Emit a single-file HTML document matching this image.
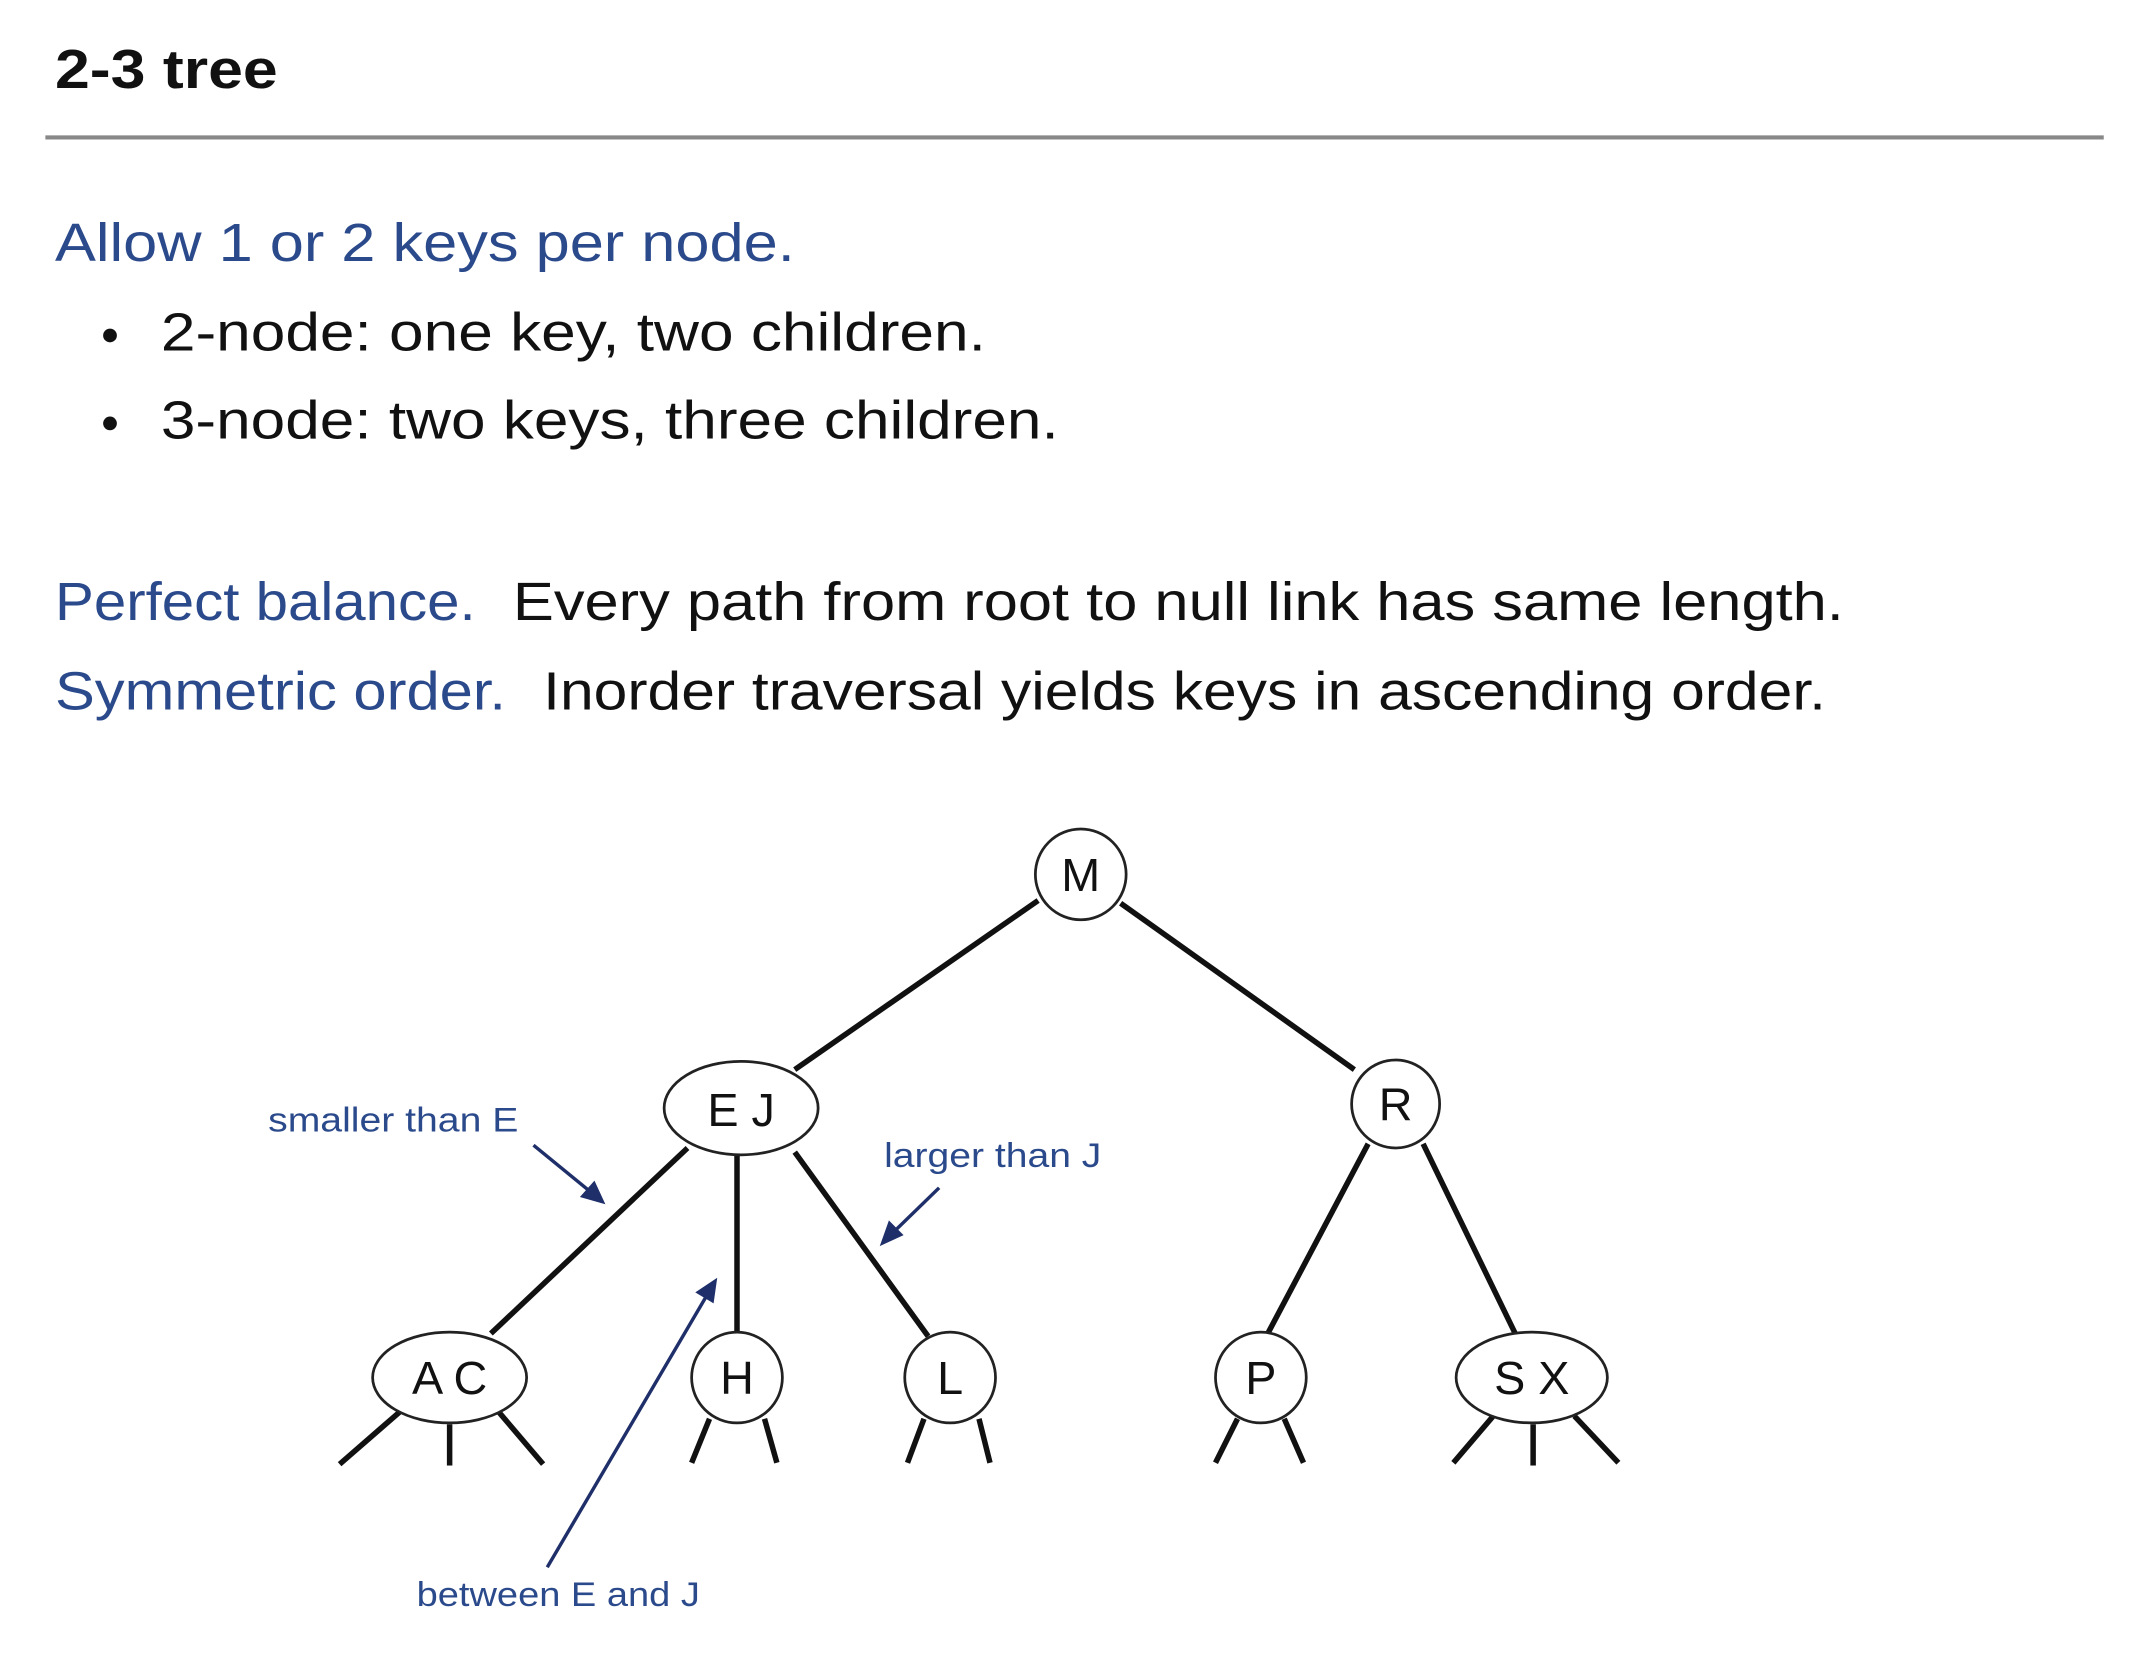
<!DOCTYPE html>
<html><head><meta charset="utf-8"><style>html,body{margin:0;padding:0;background:#fff}svg{display:block}</style></head>
<body>
<svg width="2156" height="1658" viewBox="0 0 1568 1206" preserveAspectRatio="none" xmlns="http://www.w3.org/2000/svg" font-family="Liberation Sans, sans-serif">
<rect width="1568" height="1206" fill="#fff"/>
<text x="40" y="64" font-size="40" font-weight="bold" fill="#111" textLength="162" lengthAdjust="spacingAndGlyphs">2-3 tree</text>
<line x1="33" y1="100" x2="1530" y2="100" stroke="#888" stroke-width="3"/>
<g font-size="39">
<text x="40" y="190" fill="#2b4a8c" textLength="538" lengthAdjust="spacingAndGlyphs">Allow 1 or 2 keys per node.</text>
<circle cx="80" cy="244" r="5" fill="#111"/>
<text x="117" y="255" fill="#111" textLength="600" lengthAdjust="spacingAndGlyphs">2-node:  one key, two children.</text>
<circle cx="80" cy="308" r="5" fill="#111"/>
<text x="117" y="319" fill="#111" textLength="653" lengthAdjust="spacingAndGlyphs">3-node:  two keys, three children.</text>
<text x="40" y="451" fill="#2b4a8c" textLength="306" lengthAdjust="spacingAndGlyphs">Perfect balance.</text>
<text x="373" y="451" fill="#111" textLength="968" lengthAdjust="spacingAndGlyphs">Every path from root to null link has same length.</text>
<text x="40" y="516" fill="#2b4a8c" textLength="328" lengthAdjust="spacingAndGlyphs">Symmetric order.</text>
<text x="395" y="516" fill="#111" textLength="933" lengthAdjust="spacingAndGlyphs">Inorder traversal yields keys in ascending order.</text>
</g>
<g stroke="#111" stroke-width="4" stroke-linecap="butt">
<line x1="755" y1="655" x2="578" y2="778"/>
<line x1="815" y1="657" x2="985" y2="778"/>
<line x1="500" y1="835" x2="357" y2="970"/>
<line x1="536" y1="840" x2="536" y2="970"/>
<line x1="578" y1="838" x2="675" y2="972"/>
<line x1="995" y1="832" x2="922" y2="970"/>
<line x1="1035" y1="832" x2="1102" y2="970"/>
<line x1="247" y1="1065" x2="293" y2="1025"/><line x1="327" y1="1036" x2="327" y2="1066"/><line x1="361" y1="1025" x2="395" y2="1065"/>
<line x1="503" y1="1064" x2="516" y2="1032"/><line x1="556" y1="1032" x2="565" y2="1064"/>
<line x1="660" y1="1064" x2="672" y2="1032"/><line x1="712" y1="1032" x2="720" y2="1064"/>
<line x1="884" y1="1064" x2="900" y2="1032"/><line x1="934" y1="1032" x2="948" y2="1064"/>
<line x1="1057" y1="1064" x2="1086" y2="1030"/><line x1="1115" y1="1036" x2="1115" y2="1066"/><line x1="1145" y1="1030" x2="1177" y2="1064"/>
</g>
<g fill="#fff" stroke="#222" stroke-width="2">
<circle cx="786" cy="636" r="33"/>
<ellipse cx="539" cy="806" rx="56" ry="34"/>
<circle cx="1015" cy="803" r="32"/>
<ellipse cx="327" cy="1002" rx="56" ry="33"/>
<circle cx="536" cy="1002" r="33"/>
<circle cx="691" cy="1002" r="33"/>
<circle cx="917" cy="1002" r="33"/>
<ellipse cx="1114" cy="1002" rx="55" ry="33"/>
</g>
<g font-size="34" fill="#111" text-anchor="middle">
<text x="786" y="648">M</text>
<text x="539" y="819">E J</text>
<text x="1015" y="815">R</text>
<text x="327" y="1014">A C</text>
<text x="536" y="1014">H</text>
<text x="691" y="1014">L</text>
<text x="917" y="1014">P</text>
<text x="1114" y="1014">S X</text>
</g>
<g font-size="25" fill="#2b4a8c">
<text x="195" y="823" textLength="182" lengthAdjust="spacingAndGlyphs">smaller than E</text>
<text x="643" y="849" textLength="158" lengthAdjust="spacingAndGlyphs">larger than J</text>
<text x="303" y="1168" textLength="206" lengthAdjust="spacingAndGlyphs">between E and J</text>
</g>
<g stroke="#1f2f6a" stroke-width="2.5" fill="#1f2f6a">
<line x1="388" y1="833" x2="432" y2="869"/><polygon points="438,874 424,870 432,861"/>
<line x1="683" y1="864" x2="647" y2="899"/><polygon points="642,904 647,890 655,898"/>
<line x1="398" y1="1140" x2="516" y2="939"/><polygon points="520,932 518,946 508,940"/>
</g>
</svg>
</body></html>
